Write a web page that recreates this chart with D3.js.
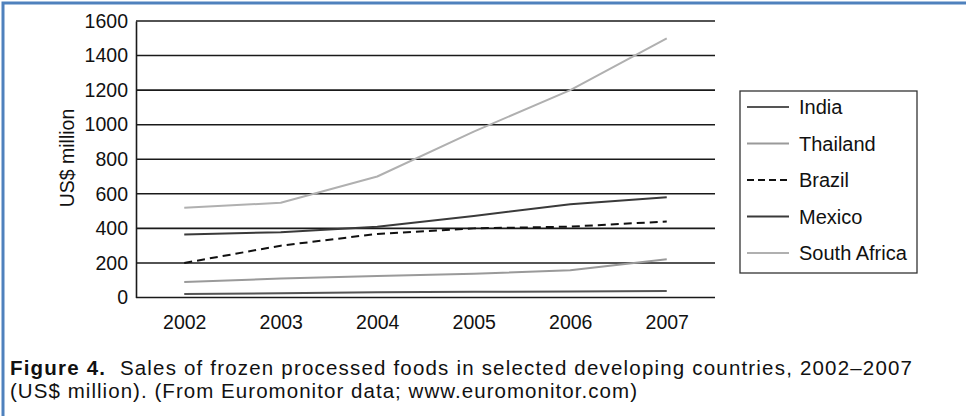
<!DOCTYPE html>
<html>
<head>
<meta charset="utf-8">
<script src="https://cdn.jsdelivr.net/npm/d3@7"></script>
<style>
  html, body { margin: 0; padding: 0; background: #fff; }
  svg { display: block; }
  text { font-family: "Liberation Sans", Arial, sans-serif; fill: #111; }
</style>
</head>
<body>
<svg id="mainsvg" width="966" height="416"></svg>
<script>
// data (US$ million)
const years = ['2002', '2003', '2004', '2005', '2006', '2007']
const seriesNames = ['India', 'Thailand', 'Brazil', 'Mexico', 'South Africa']
const india = [20, 25, 30, 33, 35, 38]
const thailand = [90, 110, 125, 137, 158, 222]
const brazil = [200, 300, 368, 400, 410, 440]
const mexico = [365, 378, 410, 472, 540, 580]
const southAfrica = [520, 548, 700, 960, 1200, 1500]
const yTicks = [0, 200, 400, 600, 800, 1000, 1200, 1400, 1600]

const seriesValues = [india, thailand, brazil, mexico, southAfrica]
const seriesColors = ['#555', '#9a9a9a', '#111', '#3a3a3a', '#b0b0b0']
const seriesDash = [null, null, '8,5', null, null]

const fontFam = '"Liberation Sans", Arial, sans-serif'
const svg = d3.select('#mainsvg')

// blue frame round the figure
svg.append('path')
  .attr('d', 'M3,416 L3,3 L966,3')
  .attr('fill', 'none')
  .attr('stroke', '#4f81bd')
  .attr('stroke-width', 3)

const plot = {left: 136, right: 715, top: 21, bottom: 297.5}

const x = d3.scalePoint().domain(years).range([plot.left, plot.right]).padding(0.5)
const y = d3.scaleLinear().domain([0, 1600]).range([plot.bottom, plot.top])

// gridlines
svg.append('g').selectAll('line')
  .data(yTicks)
  .join('line')
  .attr('x1', plot.left)
  .attr('x2', plot.right)
  .attr('y1', d => y(d))
  .attr('y2', d => y(d))
  .attr('stroke', '#1a1a1a')
  .attr('stroke-width', 1.6)

// y axis
const yAxis = svg.append('g')
  .attr('transform', `translate(${plot.left},0)`)
  .call(d3.axisLeft(y).tickValues(yTicks).tickFormat(d3.format('d')).tickSize(0).tickPadding(8))
yAxis.select('.domain').attr('stroke', '#1a1a1a').attr('stroke-width', 1.6)
yAxis.selectAll('text')
  .style('font-size', '19.5px')
  .style('font-family', fontFam)
  .attr('fill', '#111')

// x axis
const xAxis = svg.append('g')
  .attr('transform', `translate(0,${plot.bottom})`)
  .call(d3.axisBottom(x).tickSize(0).tickPadding(18))
xAxis.select('.domain').remove()
xAxis.selectAll('text')
  .style('font-size', '19.5px')
  .style('font-family', fontFam)
  .attr('fill', '#111')

// y title
svg.append('text')
  .attr('transform', `translate(74,158) rotate(-90)`)
  .attr('text-anchor', 'middle')
  .style('font-size', '19.5px')
  .text('US$ million')

// lines
const line = d3.line()
  .x((d, i) => x(years[i]))
  .y(d => y(d))

svg.append('g').selectAll('path')
  .data(seriesValues)
  .join('path')
  .attr('d', d => line(d))
  .attr('fill', 'none')
  .attr('stroke', (d, i) => seriesColors[i])
  .attr('stroke-width', 2)
  .attr('stroke-linejoin', 'round')
  .attr('stroke-dasharray', (d, i) => seriesDash[i])

// legend
const lg = svg.append('g').attr('transform', 'translate(740,91)')
lg.append('rect')
  .attr('width', 177)
  .attr('height', 182)
  .attr('fill', 'none')
  .attr('stroke', '#333')
  .attr('stroke-width', 1.3)

const row = lg.selectAll('g.row')
  .data(seriesNames)
  .join('g')
  .attr('class', 'row')
  .attr('transform', (d, i) => `translate(0,${16 + i * 36.5})`)
row.append('line')
  .attr('x1', 7)
  .attr('x2', 49)
  .attr('stroke', (d, i) => seriesColors[i])
  .attr('stroke-width', 2.2)
  .attr('stroke-dasharray', (d, i) => seriesDash[i] ? '7,4' : null)
row.append('text')
  .attr('x', 59)
  .attr('dy', '0.35em')
  .style('font-size', '20px')
  .text(d => d)

// caption
const cap = svg.append('text')
  .attr('x', 10)
  .attr('y', 375)
  .attr('textLength', 902)
  .attr('lengthAdjust', 'spacing')
  .style('font-size', '20.5px')
cap.append('tspan').style('font-weight', 'bold').text('Figure 4.')
cap.append('tspan').text('\u00a0 Sales of frozen processed foods in selected developing countries, 2002\u20132007')
svg.append('text')
  .attr('x', 10)
  .attr('y', 398)
  .attr('textLength', 627)
  .attr('lengthAdjust', 'spacing')
  .style('font-size', '20.5px')
  .text('(US$ million). (From Euromonitor data; www.euromonitor.com)')
</script>
</body>
</html>
